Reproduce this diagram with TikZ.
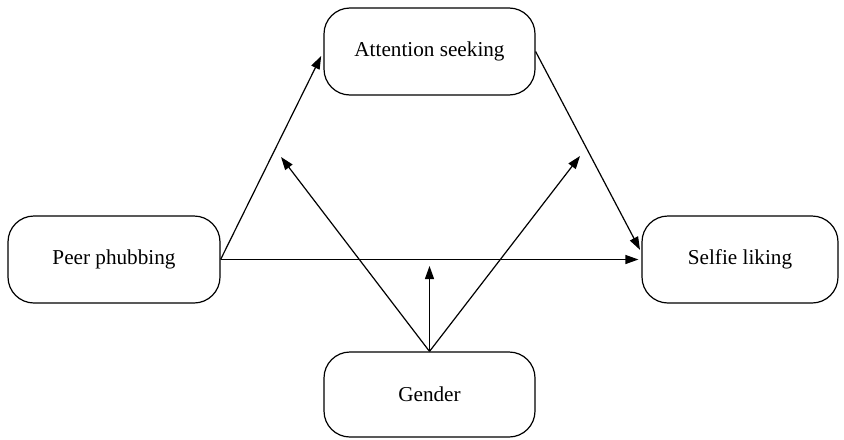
\documentclass[tikz,border=0pt]{standalone}
\usepackage{fontspec}
\setmainfont{Liberation Serif}
\usetikzlibrary{arrows.meta}
\begin{document}
\begin{tikzpicture}[x=0.5pt, y=-0.5pt,
  box/.style={draw, line width=0.6pt, rounded corners=13pt, align=center, minimum height=43.5pt, font=\fontsize{10.6}{12}\selectfont},
  link/.style={line width=0.6pt, -{Triangle[length=6.5pt, width=4.5pt]}}]
\useasboundingbox (0,0) rectangle (844,439);
\node[box, minimum width=105.5pt] (as) at (429.5,51.5) {Attention seeking};
\node[box, minimum width=106pt] (pp) at (114,259.5) {Peer phubbing};
\node[box, minimum width=98pt] (sl) at (740,259.5) {Selfie liking};
\node[box, minimum width=105.5pt, minimum height=42.5pt] (ge) at (429.5,394.5) {Gender};
\coordinate (mid) at (429.5,266);
\coordinate (left) at (281,157);
\coordinate (right) at (580,156);
\draw[link, shorten >=2.5pt] (pp.east) -- (as.west);
\draw[link, shorten >=1.5pt] (as.east) -- ([yshift=3.5pt]sl.west);
\draw[link, shorten >=1.5pt] (pp.east) -- (sl.west);
\draw[link] (ge.north) -- (mid);
\draw[link] (ge.north) -- (left);
\draw[link] (ge.north) -- (right);
\end{tikzpicture}
\end{document}
